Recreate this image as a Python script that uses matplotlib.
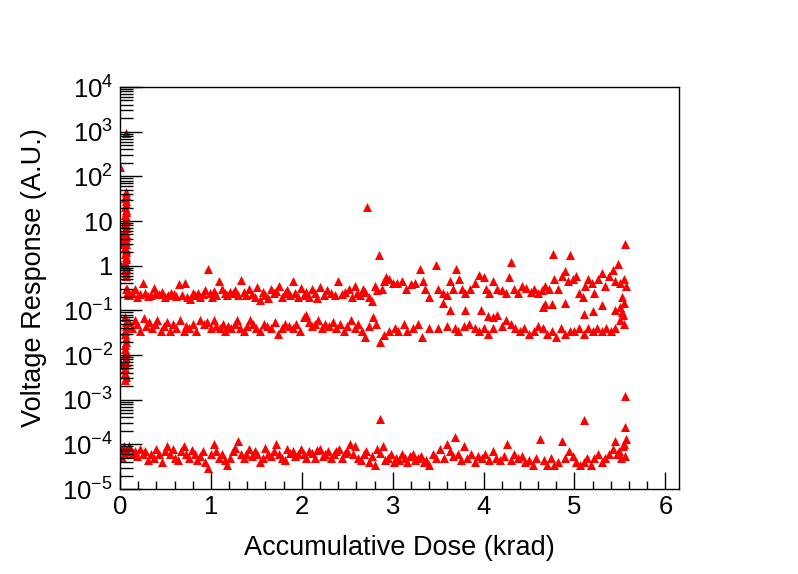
import matplotlib
matplotlib.use("Agg")
import matplotlib.pyplot as plt
from matplotlib.ticker import FixedLocator, LogLocator, MultipleLocator, NullFormatter

plt.rcParams["font.family"] = ["Liberation Sans", "DejaVu Sans"]
plt.rcParams["mathtext.fontset"] = "custom"
plt.rcParams["mathtext.rm"] = "Liberation Sans"
plt.rcParams["mathtext.it"] = "Liberation Sans:italic"

# spike of readings at the very start of irradiation
spike_x = [0.0, 0.07, 0.0, 0.01, 0.0, 0.02, 0.0,
           0.065, 0.07, 0.06, 0.065, 0.07, 0.06, 0.065, 0.07, 0.06, 0.065, 0.07, 0.06, 0.065, 0.07, 0.06, 0.065,
           0.07, 0.06, 0.065, 0.07, 0.06, 0.065, 0.07, 0.06, 0.065, 0.07, 0.06, 0.065, 0.07, 0.06, 0.065, 0.07,
           0.07, 0.08, 0.09,
           0.06, 0.065, 0.07, 0.055, 0.06, 0.065, 0.07, 0.06, 0.055, 0.065, 0.06, 0.07, 0.065, 0.06, 0.055, 0.06,
           0.065, 0.06, 0.04, 0.0]
spike_y = [160, 930, 3.5, 4.2, 1.1, 3.0, 5.0,
           45, 38, 33, 28, 24, 21, 18, 16, 14, 12, 10.5, 9, 8, 7, 6, 5.2,
           4.5, 4, 3.5, 3, 2.6, 2.3, 2, 1.8, 1.6, 1.4, 1.2, 1.05, 0.9, 0.8, 0.7, 0.6,
           0.3, 0.25, 0.22,
           0.07, 0.055, 0.045, 0.035, 0.03, 0.024, 0.02, 0.017, 0.014, 0.012, 0.01, 0.0085, 0.007, 0.006, 0.005, 0.004,
           0.0033, 0.0028, 0.0065, 0.007]

# upper band (~0.2-0.5)
upper_x = [0.08, 0.10, 0.13, 0.16, 0.19, 0.22, 0.25, 0.28, 0.31, 0.34, 0.37, 0.40, 0.43, 0.46, 0.50,
           0.53, 0.56, 0.59, 0.62, 0.65, 0.68, 0.71, 0.74, 0.77, 0.80, 0.83, 0.86, 0.88, 0.91, 0.94,
           0.97, 0.99, 1.01, 1.03, 1.06, 1.09, 1.12, 1.15, 1.18, 1.21, 1.24, 1.27, 1.30, 1.33, 1.36,
           1.39, 1.42, 1.45, 1.48, 1.51, 1.54, 1.57, 1.60, 1.63, 1.66, 1.69, 1.72, 1.75, 1.78, 1.81,
           1.84, 1.87, 1.90, 1.93, 1.96, 1.99, 2.02, 2.05, 2.08, 2.11, 2.14, 2.17, 2.20, 2.24, 2.28,
           2.32, 2.36, 2.40, 2.44, 2.48, 2.52, 2.55, 2.58, 2.61, 2.64, 2.67, 2.70, 2.72, 2.74, 2.77,
           2.80, 2.83, 2.85, 2.88, 2.90, 2.93, 2.96, 3.00, 3.05, 3.10, 3.15, 3.20, 3.25, 3.30, 3.33,
           3.36, 3.40, 3.48, 3.50, 3.55, 3.60, 3.63, 3.66, 3.70, 3.73, 3.76, 3.80, 3.85, 3.90, 3.95,
           4.00, 4.03, 4.06, 4.10, 4.15, 4.20, 4.25, 4.28, 4.30, 4.34, 4.38, 4.42, 4.47, 4.52, 4.56,
           4.60, 4.64, 4.68, 4.72, 4.76, 4.78, 4.82, 4.86, 4.90, 4.93, 4.95, 4.98, 5.02, 5.05, 5.09,
           5.12, 5.15, 5.19, 5.22, 5.26, 5.30, 5.34, 5.38, 5.42, 5.45, 5.48, 5.50, 5.52, 5.54, 5.55,
           5.56, 5.57]
upper_y = [0.30, 0.22, 0.25, 0.30, 0.20, 0.23, 0.42, 0.24, 0.21, 0.22, 0.32, 0.24, 0.23, 0.26, 0.20,
           0.22, 0.24, 0.23, 0.21, 0.38, 0.22, 0.42, 0.20, 0.18, 0.24, 0.22, 0.25, 0.20, 0.23, 0.28,
           0.85, 0.24, 0.20, 0.27, 0.22, 0.45, 0.30, 0.24, 0.22, 0.26, 0.25, 0.28, 0.22, 0.48, 0.26,
           0.22, 0.30, 0.23, 0.20, 0.33, 0.17, 0.26, 0.22, 0.19, 0.30, 0.24, 0.27, 0.35, 0.20, 0.24,
           0.28, 0.22, 0.45, 0.25, 0.20, 0.32, 0.22, 0.26, 0.20, 0.30, 0.25, 0.19, 0.34, 0.22, 0.28,
           0.24, 0.22, 0.45, 0.23, 0.26, 0.30, 0.20, 0.36, 0.25, 0.22, 0.30, 0.26, 21.0, 0.20, 0.16,
           0.35, 0.28, 1.7, 0.30, 0.45, 0.55, 0.50, 0.40, 0.42, 0.45, 0.30, 0.38, 0.42, 0.85, 0.45,
           0.30, 0.20, 1.05, 0.30, 0.25, 0.22, 0.45, 0.30, 0.85, 0.50, 0.30, 0.25, 0.30, 0.40, 0.62,
           0.55, 0.30, 0.25, 0.45, 0.30, 0.28, 0.25, 0.55, 1.2, 0.30, 0.25, 0.35, 0.32, 0.26, 0.30,
           0.25, 0.28, 0.35, 0.30, 1.8, 0.50, 0.30, 0.60, 0.75, 0.45, 1.7, 0.50, 0.60, 0.25, 0.20,
           0.35, 0.50, 0.40, 0.25, 0.50, 0.70, 0.35, 0.60, 0.80, 0.45, 1.1, 0.40, 0.20, 0.50, 0.15,
           3.0, 0.35]

# middle band (~0.03-0.1) and the few stray points below it
middle_x = [0.08, 0.10, 0.13, 0.16, 0.19, 0.22, 0.26, 0.29, 0.32, 0.35, 0.38, 0.41, 0.45, 0.48, 0.52,
            0.55, 0.58, 0.62, 0.66, 0.70, 0.73, 0.76, 0.80, 0.84, 0.88, 0.92, 0.96, 1.00, 1.03, 1.06,
            1.10, 1.13, 1.16, 1.19, 1.22, 1.26, 1.29, 1.32, 1.36, 1.40, 1.43, 1.46, 1.50, 1.54, 1.58,
            1.62, 1.66, 1.70, 1.74, 1.78, 1.82, 1.86, 1.90, 1.94, 1.98, 2.02, 2.05, 2.08, 2.11, 2.14,
            2.18, 2.22, 2.26, 2.30, 2.34, 2.38, 2.42, 2.46, 2.50, 2.54, 2.58, 2.62, 2.66, 2.70, 2.74,
            2.78, 2.82, 2.86, 2.90, 2.96, 3.02, 3.06, 3.12, 3.16, 3.22, 3.28, 3.32, 3.40, 3.50, 3.60,
            3.68, 3.72, 3.78, 3.84, 3.90, 3.95, 4.00, 4.05, 4.10, 4.15, 4.20, 4.25, 4.30, 4.35, 4.40,
            4.45, 4.50, 4.55, 4.60, 4.65, 4.70, 4.75, 4.80, 4.85, 4.90, 4.95, 5.00, 5.05, 5.10, 5.15,
            5.20, 5.25, 5.30, 5.35, 5.40, 5.45, 5.50, 5.53, 5.55,
            3.55, 3.63, 3.79, 3.97, 4.05, 4.10, 4.65, 4.68, 4.75, 4.90, 5.10, 5.20, 5.30, 5.45, 5.50, 5.52,
            2.86, 5.10, 5.56, 5.56]
middle_y = [0.040, 0.055, 0.040, 0.060, 0.050, 0.035, 0.068, 0.045, 0.055, 0.040, 0.050, 0.060, 0.035, 0.045, 0.055,
            0.035, 0.050, 0.040, 0.060, 0.035, 0.045, 0.040, 0.050, 0.035, 0.060, 0.050, 0.055, 0.040, 0.060, 0.045,
            0.040, 0.050, 0.035, 0.045, 0.040, 0.050, 0.060, 0.040, 0.035, 0.045, 0.060, 0.050, 0.040, 0.035, 0.050,
            0.045, 0.040, 0.055, 0.030, 0.040, 0.050, 0.045, 0.040, 0.050, 0.035, 0.070, 0.080, 0.055, 0.045, 0.050,
            0.060, 0.040, 0.050, 0.045, 0.055, 0.040, 0.050, 0.035, 0.045, 0.060, 0.040, 0.050, 0.035, 0.025, 0.045,
            0.070, 0.050, 0.020, 0.028, 0.035, 0.040, 0.035, 0.050, 0.035, 0.040, 0.050, 0.025, 0.040, 0.040, 0.045,
            0.040, 0.035, 0.045, 0.050, 0.040, 0.035, 0.040, 0.030, 0.040, 0.080, 0.045, 0.060, 0.050, 0.040, 0.035,
            0.040, 0.030, 0.035, 0.045, 0.040, 0.030, 0.035, 0.025, 0.040, 0.030, 0.035, 0.035, 0.040, 0.030, 0.040,
            0.035, 0.040, 0.035, 0.040, 0.035, 0.040, 0.060, 0.080, 0.050,
            0.15, 0.10, 0.10, 0.10, 0.075, 0.070, 0.12, 0.14, 0.14, 0.15, 0.085, 0.095, 0.13, 0.10, 0.12, 0.09,
            3.7e-4, 3.5e-4, 1.2e-3, 2.5e-4]

# lower band (~1e-4)
lower_x = [0.00, 0.02, 0.04, 0.06, 0.08, 0.10, 0.13, 0.16, 0.19, 0.22, 0.25, 0.28, 0.31, 0.34, 0.37,
           0.40, 0.43, 0.46, 0.49, 0.52, 0.55, 0.58, 0.61, 0.64, 0.67, 0.70, 0.73, 0.76, 0.79, 0.82,
           0.85, 0.88, 0.91, 0.94, 0.97, 1.00, 1.03, 1.06, 1.09, 1.12, 1.15, 1.18, 1.21, 1.24, 1.27,
           1.30, 1.33, 1.36, 1.39, 1.42, 1.45, 1.48, 1.51, 1.54, 1.57, 1.60, 1.63, 1.66, 1.69, 1.72,
           1.75, 1.78, 1.81, 1.84, 1.87, 1.90, 1.93, 1.96, 1.99, 2.02, 2.05, 2.08, 2.11, 2.14, 2.17,
           2.20, 2.23, 2.26, 2.29, 2.32, 2.35, 2.38, 2.41, 2.44, 2.47, 2.50, 2.53, 2.56, 2.59, 2.62,
           2.65, 2.68, 2.71, 2.74, 2.77, 2.80, 2.83, 2.86, 2.89, 2.92, 2.95, 2.98, 3.01, 3.04, 3.07,
           3.10, 3.13, 3.16, 3.19, 3.22, 3.25, 3.28, 3.31, 3.34, 3.37, 3.40, 3.44, 3.48, 3.52, 3.56,
           3.60, 3.63, 3.66, 3.69, 3.72, 3.75, 3.78, 3.82, 3.86, 3.90, 3.94, 3.98, 4.02, 4.06, 4.10,
           4.14, 4.18, 4.22, 4.26, 4.30, 4.34, 4.38, 4.42, 4.46, 4.50, 4.54, 4.58, 4.62, 4.66, 4.70,
           4.74, 4.78, 4.82, 4.86, 4.90, 4.94, 4.98, 5.02, 5.06, 5.10, 5.14, 5.18, 5.22, 5.26, 5.30,
           5.34, 5.38, 5.42, 5.45, 5.47, 5.49, 5.51, 5.53, 5.55, 5.56, 5.57]
lower_y = [8e-5, 5e-5, 9e-5, 6e-5, 7e-5, 9e-5, 6e-5, 7e-5, 5.5e-5, 8e-5, 6e-5, 7e-5, 4.5e-5, 6e-5, 5e-5,
           8e-5, 6e-5, 4e-5, 7e-5, 9e-5, 6e-5, 8e-5, 5e-5, 4.5e-5, 7e-5, 9e-5, 6e-5, 5e-5, 7.5e-5, 6e-5,
           4.5e-5, 5.5e-5, 7e-5, 4e-5, 3e-5, 6e-5, 1e-4, 7e-5, 5e-5, 6e-5, 4.5e-5, 3.5e-5, 5e-5, 7e-5, 8.5e-5,
           1.2e-4, 6e-5, 5e-5, 6e-5, 8e-5, 5.5e-5, 7e-5, 6e-5, 4e-5, 5e-5, 8.5e-5, 6e-5, 5.5e-5, 7e-5, 1e-4,
           6e-5, 5e-5, 4.5e-5, 8e-5, 6.5e-5, 7e-5, 5.5e-5, 6e-5, 8e-5, 6e-5, 5e-5, 7e-5, 6.5e-5, 5e-5, 7.5e-5,
           8e-5, 5.5e-5, 6e-5, 7e-5, 5e-5, 6e-5, 7e-5, 8e-5, 5e-5, 6.5e-5, 7e-5, 1e-4, 6e-5, 9e-5, 5e-5,
           4.5e-5, 6e-5, 7e-5, 4e-5, 5.5e-5, 3.5e-5, 8e-5, 6.5e-5, 9e-5, 4.5e-5, 5e-5, 6e-5, 4e-5, 5e-5, 4.5e-5,
           6e-5, 5e-5, 4e-5, 5.5e-5, 6e-5, 4.5e-5, 5e-5, 5.5e-5, 4e-5, 4.5e-5, 3.5e-5, 6e-5, 5e-5, 8e-5, 5e-5,
           1e-4, 7e-5, 5.5e-5, 1.5e-4, 6e-5, 4.5e-5, 9e-5, 5e-5, 6e-5, 4e-5, 5.5e-5, 5e-5, 6e-5, 4.5e-5, 7e-5,
           5e-5, 4.5e-5, 5.5e-5, 1e-4, 4.5e-5, 6e-5, 5e-5, 5.5e-5, 4e-5, 4.5e-5, 3.5e-5, 5e-5, 1.3e-4, 4.5e-5, 3.5e-5,
           5e-5, 3.5e-5, 4e-5, 1.2e-4, 5e-5, 7e-5, 5.5e-5, 4e-5, 3.5e-5, 4e-5, 5e-5, 3.5e-5, 5e-5, 6e-5, 4e-5,
           5e-5, 6e-5, 8e-5, 1.2e-4, 6e-5, 7e-5, 5e-5, 9e-5, 1e-4, 5.5e-5, 1.3e-4]

ytick_vals = [1e-5, 1e-4, 1e-3, 1e-2, 1e-1, 1, 10, 1e2, 1e3, 1e4]
ytick_text = [r"$10^{-5}$", r"$10^{-4}$", r"$10^{-3}$", r"$10^{-2}$", r"$10^{-1}$",
              "1", "10", r"$10^{2}$", r"$10^{3}$", r"$10^{4}$"]

fig = plt.figure(figsize=(7.98, 5.74), dpi=100)
ax = fig.add_axes([0.1504, 0.148, 0.7005, 0.7004])

marker_kw = dict(marker="^", s=42, color="#ff0000", linewidths=0)
for xs, ys in [(spike_x, spike_y), (upper_x, upper_y), (middle_x, middle_y), (lower_x, lower_y)]:
    ax.scatter(xs, ys, **marker_kw)

ax.set_yscale("log")
ax.set_xlim(0, 6.15)
ax.set_ylim(1e-5, 1e4)

ax.yaxis.set_major_locator(FixedLocator(ytick_vals))
ax.set_yticklabels(ytick_text)
ax.yaxis.set_minor_locator(LogLocator(base=10, subs=range(2, 10), numticks=20))
ax.yaxis.set_minor_formatter(NullFormatter())
ax.xaxis.set_major_locator(MultipleLocator(1))
ax.xaxis.set_minor_locator(MultipleLocator(0.2))

ax.tick_params(which="both", direction="in", top=False, right=False, width=1, labelsize=18.5)
ax.tick_params(axis="y", which="major", length=16, pad=5)
ax.tick_params(axis="y", which="minor", length=9)
ax.tick_params(axis="x", which="major", length=12, pad=4)
ax.tick_params(axis="x", which="minor", length=6)
for sp in ax.spines.values():
    sp.set_linewidth(1)

ax.set_xlabel("Accumulative Dose (krad)", fontsize=19.5)
ax.set_ylabel("Voltage Response (A.U.)", fontsize=19.5)
ax.xaxis.set_label_coords(0.5, -0.115)
ax.yaxis.set_label_coords(-0.13, 0.526)

fig.savefig("out.png", dpi=100)
